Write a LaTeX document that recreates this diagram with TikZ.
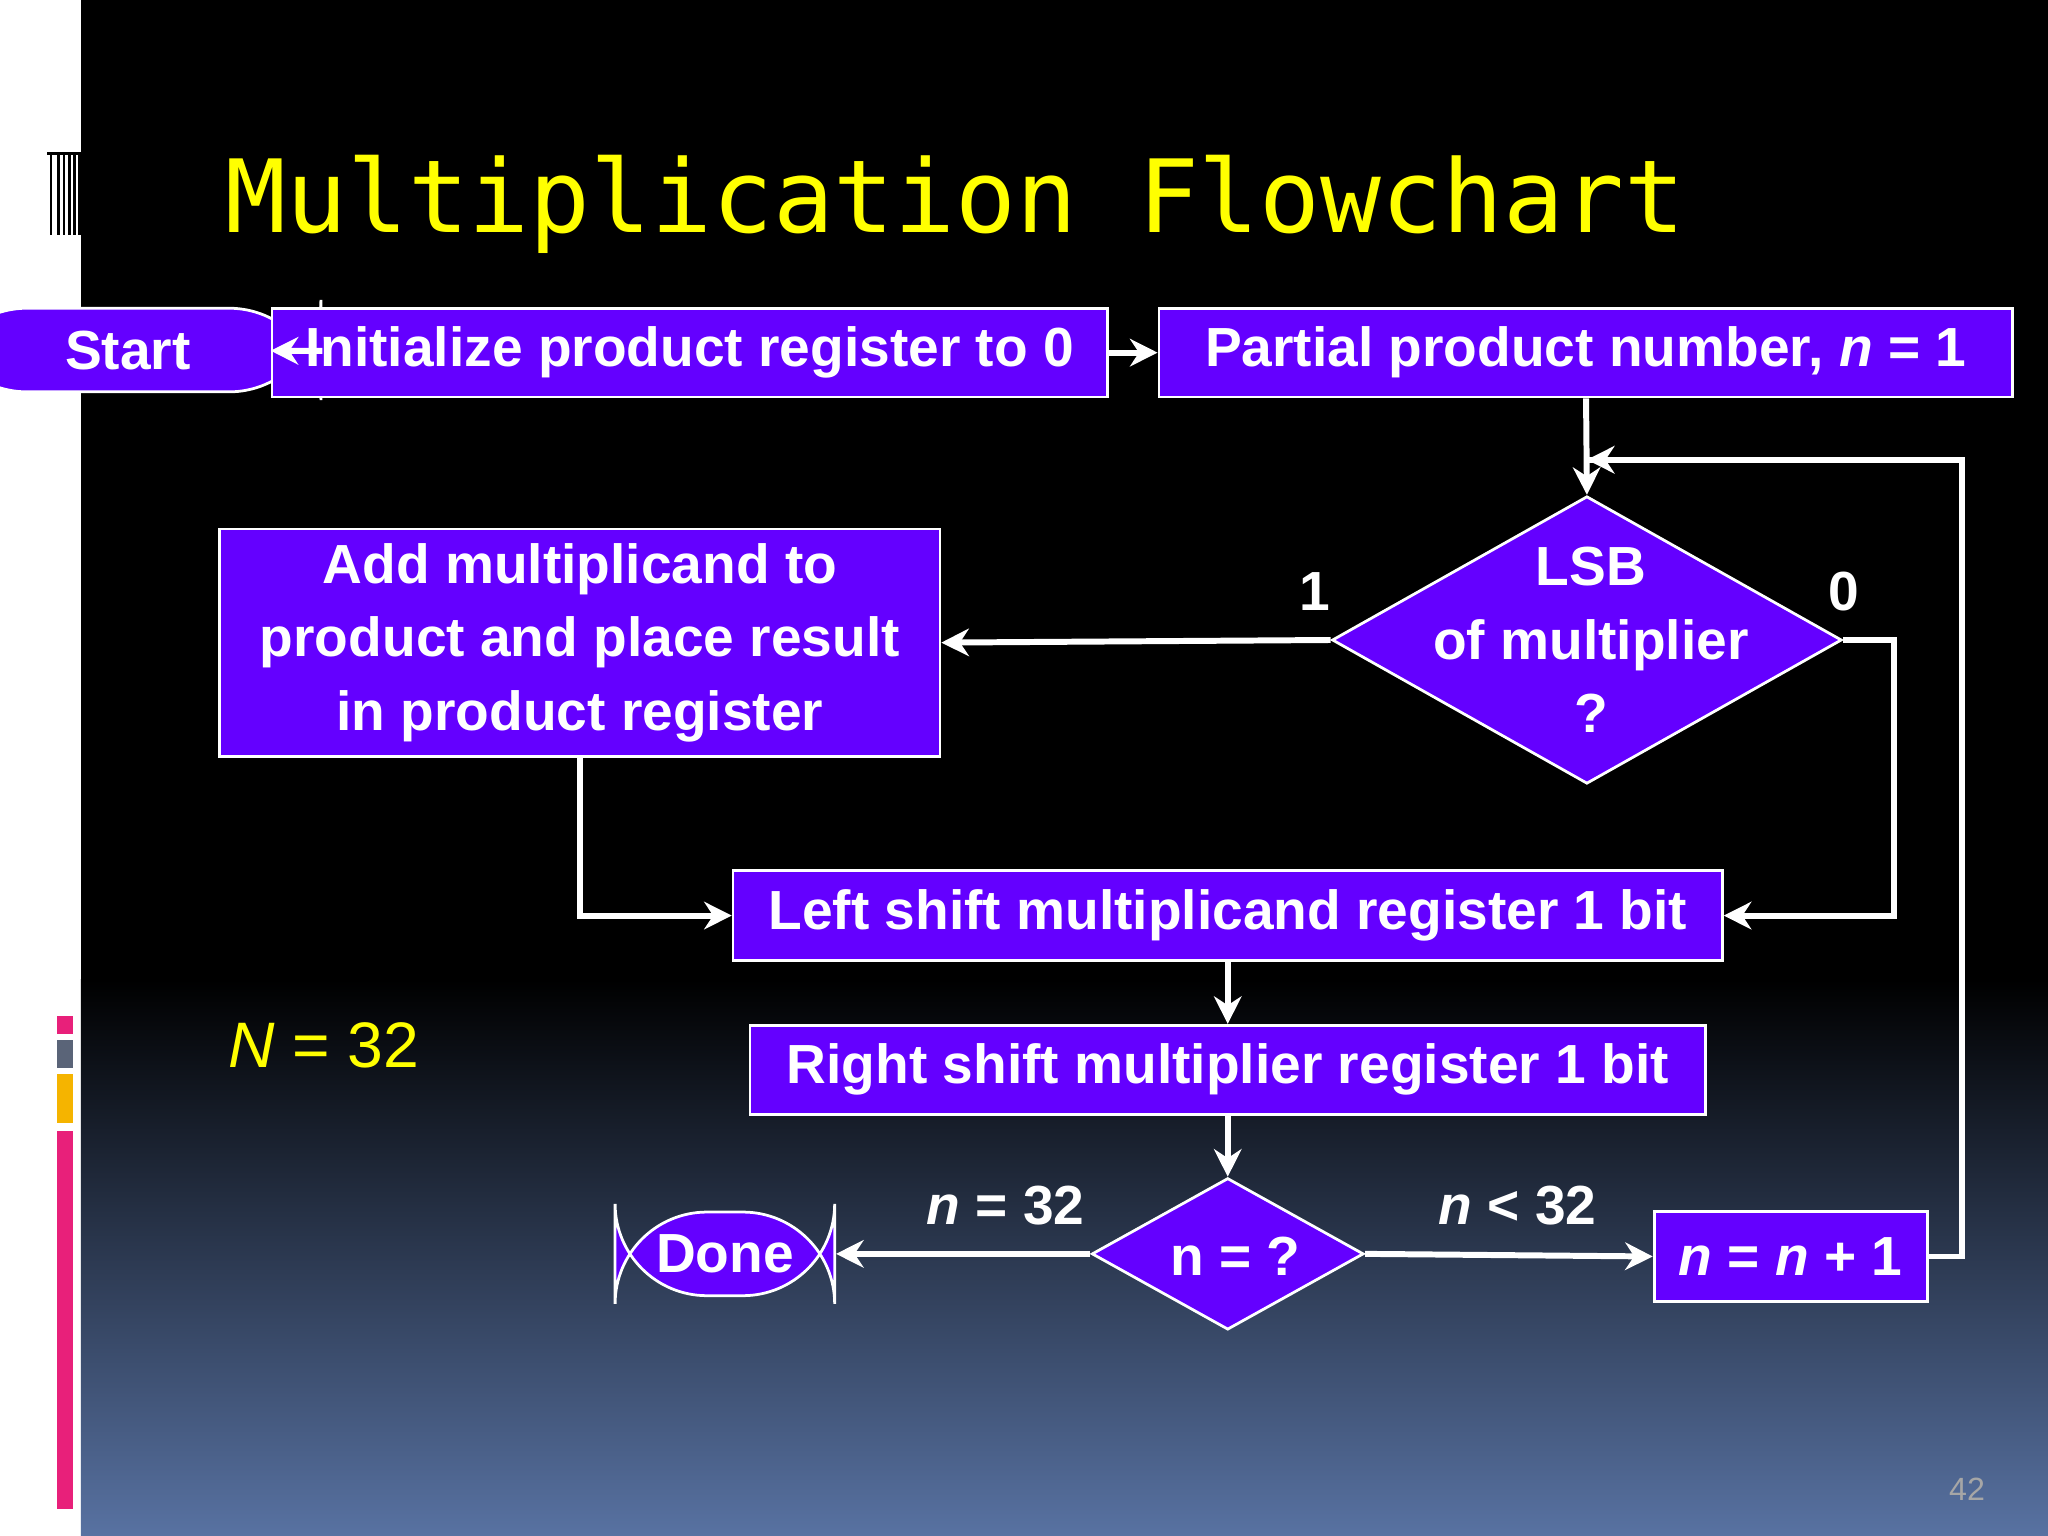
\documentclass[tikz,border=0pt]{standalone}
\usepackage{fontspec}
\setmainfont{Liberation Sans}
\newfontfamily\monof{DejaVu Sans Mono}
\usetikzlibrary{shapes.geometric,arrows.meta}
\definecolor{boxfill}{HTML}{6400FF}
\definecolor{bgbot}{RGB}{88,114,162}
\definecolor{ttl}{HTML}{FFFF00}
\definecolor{pinkbar}{HTML}{E8207A}
\definecolor{orangebar}{HTML}{F5B400}
\definecolor{greybar}{HTML}{5A6478}
\begin{document}
\begin{tikzpicture}[x=0.01cm,y=-0.01cm,
  box/.style={draw=white,line width=0.6pt,fill=boxfill,text=white,font=\fontsize{12}{14}\selectfont\bfseries,inner sep=0pt,align=center},
  dia/.style={box,diamond,aspect=1.77},
  conn/.style={draw=white,line width=1.3pt,-{Stealth[length=6pt,width=6pt]}},
  lbl/.style={text=white,font=\fontsize{12}{14}\selectfont\bfseries}]
\useasboundingbox (0,0) rectangle (1568,1176);
\fill[white] (0,0) rectangle (62,1176);
\fill[black] (62,0) rectangle (1568,750);
\shade[top color=black,bottom color=bgbot] (62,750) rectangle (1568,1176);
% left icon
\foreach \xx in {38,44,48,52,56,60}{\fill[black] (\xx,116) rectangle ++(2,64);}
\fill[black] (36,116) rectangle (62,119);
% bars
\fill[pinkbar] (44,778) rectangle (56,792);
\fill[greybar] (44,796) rectangle (56,818);
\fill[orangebar] (44,822) rectangle (56,860);
\fill[pinkbar] (44,866) rectangle (56,1155);
\node[anchor=base west,text=ttl,font=\monof\fontsize{22}{24}\selectfont,inner sep=0pt] (title) at (172,178) {Multiplication Flowchart};
\node[box,rounded corners=20pt,minimum width=140\pgflinewidth,text width=1.3cm,minimum height=0.64cm] (start) at (98,268) {Start};
\node[box,minimum width=6.39cm,minimum height=0.68cm] (init) at (528,270) {Initialize product register to 0};
\node[box,minimum width=6.53cm,minimum height=0.68cm] (part) at (1214,270) {Partial product number, \textit{n} = 1};
\node[box,diamond,minimum width=3.9cm,minimum height=2.2cm,aspect=1.77,inner sep=0pt] (lsb) at (1215,490) {};
\node[lbl,align=center] (lsbt) at (1218,490) {LSB\\[2pt]of multiplier\\[2pt]?};
\node[box,minimum width=5.51cm,minimum height=1.74cm] (add) at (444,492) {Add multiplicand to\\[2pt]product and place result\\[2pt]in product register};
\node[box,minimum width=7.57cm,minimum height=0.69cm] (ls) at (940,701) {Left shift multiplicand register 1 bit};
\node[box,minimum width=7.31cm,minimum height=0.68cm] (rs) at (940,819) {Right shift multiplier register 1 bit};
\node[box,diamond,minimum width=2.08cm,minimum height=1.16cm,aspect=1.79] (nq) at (940,960) {};
\node[lbl] (nqt) at (946,962) {n = ?};
\node[box,rounded corners=20pt,minimum width=1.68cm,minimum height=0.64cm] (done) at (555,960) {Done};
\node[box,minimum width=2.09cm,minimum height=0.69cm] (inc) at (1371,962) {\textit{n} = \textit{n} + 1};
\node[text=ttl,font=\fontsize{14}{16}\selectfont] (N) at (248,800) {\textit{N} = 32};
\node[text=gray!70,font=\fontsize{7}{8}\selectfont] (pg) at (1506,1140) {42};
\node[lbl] (l1) at (1007,453) {1};
\node[lbl] (l0) at (1412,453) {0};
\node[lbl] (leq) at (770,923) {\textit{n} = 32};
\node[lbl] (llt) at (1162,923) {\textit{n} < 32};
\coordinate (c1) at (1502,962);
\coordinate (c2) at (1502,352);
\coordinate (c3) at (1215,352);
\coordinate (c4) at (1450,490);
\coordinate (c5) at (1450,701);
\coordinate (c6) at (444,701);
\draw[conn] (start) -- (init);
\draw[conn] (init) -- (part);
\draw[conn] (part) -- (lsb.north);
\draw[conn,-] (inc.east) -- (c1) -- (c2) -- (c3);
\draw[conn] (c2) -- (c3);
\draw[conn] (lsb.west) -- (add.east);
\draw[conn] (lsb.east) -- (c4) -- (c5) -- (ls.east);
\draw[conn] (add.south) -- (c6) -- (ls.west);
\draw[conn] (ls) -- (rs);
\draw[conn] (rs) -- (nq.north);
\draw[conn] (nq.west) -- (done.east);
\draw[conn] (nq.east) -- (inc.west);
\end{tikzpicture}
\end{document}
